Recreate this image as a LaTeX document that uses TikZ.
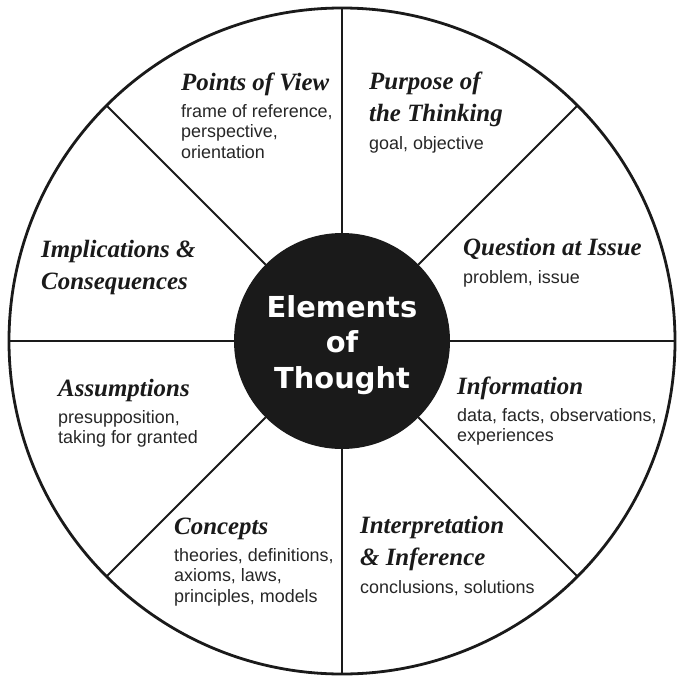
\documentclass[tikz,border=0pt]{standalone}
\usepackage{fontspec}
\newfontfamily\ttlfamily{Liberation Serif}
\newfontfamily\bdyfamily{Liberation Sans}
\newfontfamily\hubfamily{DejaVu Sans}
\definecolor{Ink}{HTML}{1A1A1A}
\definecolor{Body}{HTML}{262626}
\usetikzlibrary{positioning}

\begin{document}
\begin{tikzpicture}[x=1bp, y=-1bp,
    ttl/.style={font=\ttlfamily\bfseries\itshape\fontsize{25}{32}\selectfont, text=Ink, align=left, inner sep=0pt, anchor=north west, execute at begin node=\strut, execute at end node=\strut},
    bdy/.style={font=\bdyfamily\fontsize{18}{20.5}\selectfont, text=Body, align=left, inner sep=0pt, execute at begin node=\strut, execute at end node=\strut},
    spoke/.style={line width=2bp, draw=Ink}]
    \useasboundingbox (0,0) rectangle (677,676);
    \node[circle, draw=Ink, line width=2.8bp, minimum size=666bp, inner sep=0pt, outer sep=0pt] (rim) at (342,341) {};
    \node[circle, fill=Ink, minimum size=216bp, inner sep=0pt, outer sep=0pt] (hub) at (342,341) {};
    \node[text=white, align=center, font=\hubfamily\bfseries\fontsize{29}{35.7}\selectfont, yshift=-4bp] (hubtxt) at (hub) {Elements\\of\\Thought};

    \draw[spoke] (hub.90) -- (rim.90);
    \draw[spoke] (hub.45) -- (rim.45);
    \draw[spoke] (hub.0) -- (rim.0);
    \draw[spoke] (hub.-45) -- (rim.-45);
    \draw[spoke] (hub.-90) -- (rim.-90);
    \draw[spoke] (hub.-135) -- (rim.-135);
    \draw[spoke] (hub.180) -- (rim.180);
    \draw[spoke] (hub.135) -- (rim.135);

    \node[ttl] (pov) at (181,68) {Points of View};
    \node[bdy, below=4bp of pov.south west, anchor=north west] (povtxt) {frame of reference,\\perspective,\\orientation};
    \node[ttl] (purp) at (369,72) {Purpose of\\the Thinking};
    \node[bdy, below=4bp of purp.south west, anchor=north west] (purptxt) {goal, objective};
    \node[ttl] (quest) at (463,233) {Question at Issue};
    \node[bdy, below=4bp of quest.south west, anchor=north west] (questtxt) {problem, issue};
    \node[ttl] (impl) at (41,240) {Implications \&\\Consequences};
    \node[ttl] (assum) at (58,374) {Assumptions};
    \node[bdy, below=4bp of assum.south west, anchor=north west] (assumtxt) {presupposition,\\taking for granted};
    \node[ttl] (info) at (457,372) {Information};
    \node[bdy, below=4bp of info.south west, anchor=north west] (infotxt) {data, facts, observations,\\experiences};
    \node[ttl] (interp) at (360,516) {Interpretation\\\& Inference};
    \node[bdy, below=4bp of interp.south west, anchor=north west] (interptxt) {conclusions, solutions};
    \node[ttl] (conc) at (174,512) {Concepts};
    \node[bdy, below=4bp of conc.south west, anchor=north west] (conctxt) {theories, definitions,\\axioms, laws,\\principles, models};
\end{tikzpicture}
\end{document}
